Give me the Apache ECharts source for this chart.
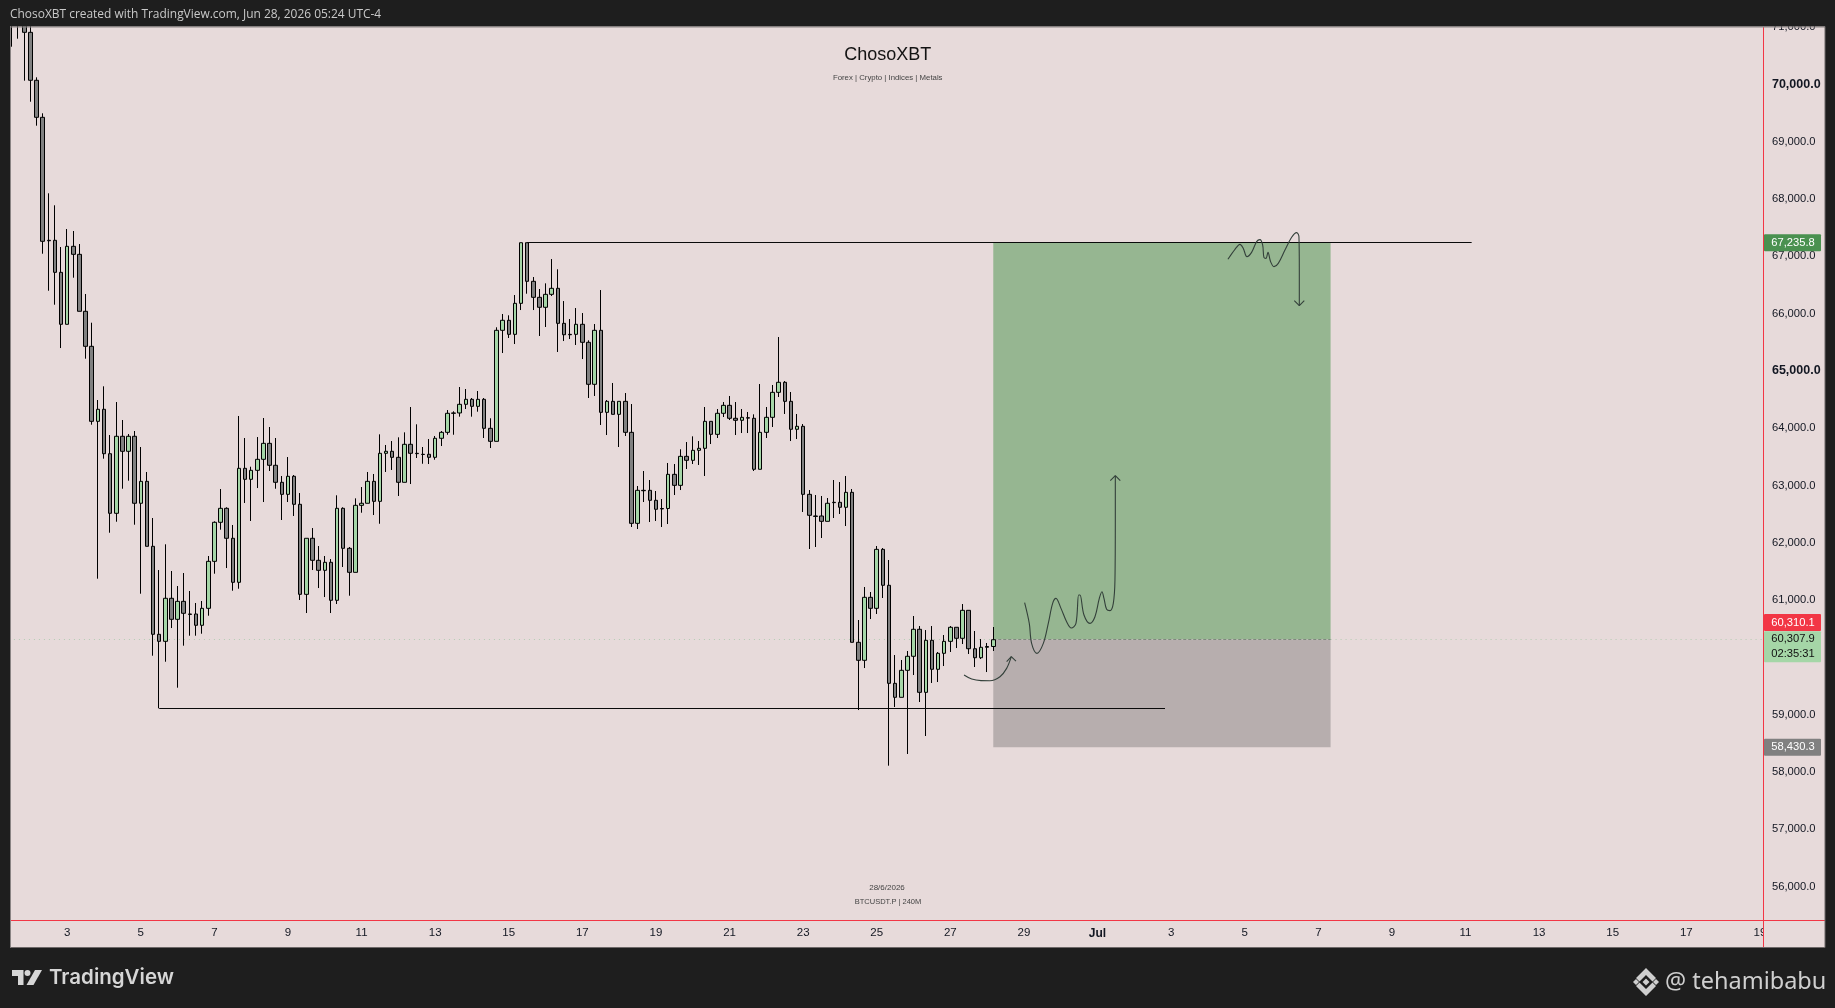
<!DOCTYPE html>
<html><head><meta charset="utf-8">
<style>html,body{margin:0;padding:0;background:#1e1e1e}#c{width:1835px;height:1008px}</style>
<script src="https://cdn.jsdelivr.net/npm/echarts@6/dist/echarts.min.js"></script>
</head><body><div id="c"></div>
<script>
// ---- data ----
const opens=[71600,71300,71150,70907,70070,69424,67278,67278,66719,65812,
67173,67033,66039,65428,64119,64329,63554,62514,63858,63596,
63858,62689,63072,61938,60403,60280,61031,60664,60978,60757,
60757,60560,60856,61676,62357,62601,62078,61310,63299,63107,
63264,63456,63735,63352,63055,62845,63160,62671,61100,62078,
61694,61519,61659,60996,62601,61903,61484,62653,62689,63072,
62723,63561,63596,63491,63055,63718,63561,63544,63544,63491,
63823,63927,64259,64265,64416,64503,64381,64503,63997,63770,
65707,65882,65637,66178,67236,66562,66283,66109,66335,66440,
65829,65637,65637,65812,65498,64765,65707,64276,64468,64241,
64468,63927,62339,62915,62915,62741,62598,62598,63194,63002,
63508,63439,63613,63648,64119,63892,64259,64398,64172,64137,
64182,64172,63282,63927,64189,64625,64800,64468,63980,64032,
62845,62467,62467,62374,62706,62706,62619,62880,60263,59949,
61048,60856,61885,61258,59547,59303,59774,60019,60490,59390,
60298,59792,60071,60280,60525,60333,60821,60151,59994,60176,
60190];
const closes=[71300,71150,70907,70070,69424,67260,67270,66719,65812,67173,
67033,66039,65428,64119,64329,63554,62514,63858,63596,63858,
62689,63072,61938,60403,60280,61031,60664,60978,60769,60750,
60560,60856,61676,62357,62601,62078,61310,63299,63107,63264,
63456,63735,63352,63055,62845,63160,62671,61100,62078,61694,
61519,61659,60996,62601,61903,61484,62653,62689,63072,62723,
63561,63596,63491,63055,63718,63561,63555,63540,63491,63823,
63927,64259,64265,64416,64503,64381,64503,63997,63770,65707,
65882,65637,66178,67236,66562,66283,66109,66335,66440,65829,
65630,65630,65812,65498,64765,65707,64276,64468,64241,64468,
63927,62339,62915,62908,62741,62584,62590,63194,63002,63508,
63439,63613,63648,64119,63892,64259,64398,64172,64137,64189,
64175,63282,63927,64189,64625,64800,64468,63980,64032,62845,
62479,62460,62374,62689,62700,62619,62880,60263,59949,61048,
60856,61885,61258,59547,59303,59774,60019,60490,59390,60298,
59792,60071,60280,60525,60333,60821,60151,59994,60176,60190,
60307.9];
const lows=[70656,70796,70063,69696,69278,67044,66398,66154,65398,65812,
66625,66039,65212,64060,61373,63467,62175,62367,62943,63083,
62315,61111,61938,60029,59111,59924,60512,59471,60204,60378,
60378,60413,60727,61460,62228,61559,61163,61198,62694,62380,
62955,62711,63252,62943,62397,62711,62467,61001,60774,61524,
61210,61053,60774,60931,61577,61076,61484,62524,62689,62484,
62332,63235,63270,62816,63055,63025,63479,63379,63374,63449,
63688,63885,63885,64200,64334,64200,64287,63828,63653,63770,
65311,65573,65468,66061,66346,66061,65608,65765,66306,65329,
65520,65555,65451,65206,64526,64561,64055,63880,64241,63671,
63863,62275,62240,62711,62362,62380,62275,62327,62833,62920,
63287,63374,63357,63165,63723,63828,64194,64142,63880,63915,
63915,63252,63282,63828,64020,64543,64247,63775,63810,62537,
61891,61926,62083,62374,62432,62502,62292,60263,59081,59814,
60669,60757,61036,58110,59134,59303,58314,59692,59221,58628,
59553,59570,59849,60094,60163,60233,60059,59832,59971,59744,
60111];
const highs=[71800,71500,71300,71050,70122,69494,68098,67889,67161,67475,
67440,67213,66341,65840,64491,64730,63880,64456,64142,63898,
63950,63671,63235,62432,61524,61973,61507,61245,61472,61158,
60949,60984,61769,62374,62938,62619,62310,64212,63828,63327,
63845,64177,64020,63828,63165,63496,63182,62868,62078,62257,
61943,61769,61716,62828,62619,61926,62775,62973,63235,63200,
63892,63706,63775,63840,63927,64369,64067,63671,63810,63863,
63950,64316,64294,64718,64683,64526,64648,64526,64172,65760,
65992,65969,66323,67236,67236,66637,66428,66527,66951,66772,
66218,65904,66096,66009,65533,65817,66410,64491,64788,64468,
64613,64421,62990,63252,63095,62903,62763,63392,63374,63631,
63758,63857,63775,64369,64119,64334,64456,64561,64456,64334,
64282,64241,64770,64369,64753,65590,64822,64631,64247,64072,
62920,62833,62816,62781,63095,63060,63165,62938,60652,61228,
61141,61943,61908,61699,60041,59954,60111,60722,60547,60477,
60547,60094,60390,60547,60525,60931,60821,60460,60320,60251,
60530];

const dayLabels=['3','5','7','9','11','13','15','17','19','21','23','25','27','29','Jul','3','5','7','9','11','13','15','17','19'];
const priceTicks=[56000,57000,58000,59000,60000,61000,62000,63000,64000,65000,66000,67000,68000,69000,70000,71000];
const boldPrices=[65000,70000];

const targetPrice=67235.8, entryPrice=60310.1, stopPrice=58430.3, lastPrice=60307.9, supportPrice=59111;
const zoneBars=[160,215];
const resistanceBars=[84,238];
const supportBars=[24,188];

const pathToTarget=[[165.11,60954],[165.87,60593],[166.25,60244],[167.12,60070],[168.16,60244],[168.97,60593],[169.68,60942],[170.22,61030],[171.04,60855],[171.96,60622],[172.72,60512],[173.48,60593],[173.92,61088],[174.13,61088],[174.79,60739],[175.76,60593],[176.58,60710],[177.29,61030],[177.72,61146],[178.05,61030],[178.48,60838],[179.03,60815],[179.57,60942],[179.84,61350],[179.9,62397],[179.9,63170]];
const pathHead=[[179.08,63083],[179.9,63170],[180.71,63083]];
const topPath=[[198.26,66946],[199.41,67120],[200.22,67207],[200.76,67137],[201.36,66992],[202.12,67068],[202.94,67254],[203.48,67289],[203.92,67196],[204.13,66981],[204.46,66963],[204.79,67068],[205.22,66905],[205.77,66818],[206.47,66876],[207.56,67108],[208.65,67330],[209.46,67411],[209.84,67341],[209.9,66759],[209.9,66137]];
const topHead=[[209.08,66224],[209.9,66137],[210.71,66224]];
const hookPath=[[155.23,59692],[156.48,59622],[158,59595],[159.46,59593],[161.09,59663],[162.18,59808],[162.94,60012]];
const hookHead=[[162.18,59924],[162.94,60012],[163.7,59936]];

const priceTags=[
 {price:targetPrice,text:'67,235.8',bg:'#4a9150',fg:'#ffffff',dy:0,h:17},
 {price:entryPrice,text:'60,310.1',bg:'#f23645',fg:'#ffffff',dy:-17,h:17},
 {price:lastPrice,text:'60,307.9\n02:35:31',bg:'#a5d6a7',fg:'#111111',dy:7,h:31},
 {price:stopPrice,text:'58,430.3',bg:'#808080',fg:'#ffffff',dy:0,h:17}
];

// ---- build ----
const BAR=6.133, GL=8.93, N=286;
const categories=new Array(N).fill('');
dayLabels.forEach((d,k)=>{categories[9+12*k]=d;});
const candles=opens.map((o,i)=>[o,closes[i],lows[i],highs[i]]);
const axisFont='"Liberation Sans",Arial,sans-serif';
const BG='#e7dada', DARK='#1e1e1e', RED='#f23645';

function curve(data,smooth){return {type:'line',xAxisIndex:1,yAxisIndex:0,data:data,smooth:smooth?0.35:false,symbol:'none',silent:true,z:6,lineStyle:{color:'#33403a',width:1.1},clip:true};}

const chart=echarts.init(document.getElementById('c'),null,{renderer:'canvas'});
function rect(x,y,w,h,fill,z){return {type:'rect',shape:{x,y,width:w,height:h},style:{fill},z:z||100,silent:true};}
function text(t,x,y,font,fill,align){return {type:'text',style:{text:t,x,y,font,fill,textAlign:align||'left',textVerticalAlign:'middle'},z:110,silent:true};}

chart.setOption({
 animation:false,
 backgroundColor:BG,
 grid:{left:GL,width:BAR*N,top:27,height:893.3,containLabel:false},
 xAxis:[
  {type:'category',data:categories,boundaryGap:true,z:1,
   axisLine:{show:false},axisTick:{show:false},splitLine:{show:false},
   axisLabel:{show:true,interval:0,margin:7,hideOverlap:false,color:'#131722',fontFamily:axisFont,fontSize:11.5,
    formatter:v=>v==='Jul'?'{b|Jul}':v,rich:{b:{fontWeight:'bold',fontSize:12,fontFamily:axisFont,color:'#131722'}}}},
  {type:'value',min:-0.5,max:N-0.5,show:false}
 ],
 yAxis:[{type:'value',position:'right',min:55412,max:71000,z:1,scale:true,
   axisLine:{show:false},axisTick:{show:false},splitLine:{show:false},
   axisLabel:{show:true,margin:9,align:'left',color:'#131722',fontFamily:axisFont,fontSize:11.2,
     customValues:priceTicks,showMinLabel:true,showMaxLabel:true,
     formatter:v=>{const s=Number(v).toLocaleString('en-US',{minimumFractionDigits:1,maximumFractionDigits:1});return boldPrices.includes(v)?'{b|'+s+'}':s;},
     rich:{b:{fontWeight:'bold',fontSize:12.5,fontFamily:axisFont,color:'#131722'}}}}],
 series:[
  {type:'line',name:'zones',xAxisIndex:1,yAxisIndex:0,data:[[zoneBars[0],entryPrice]],symbol:'none',silent:true,z:1,
   markArea:{silent:true,z:1,data:[
     [{coord:[zoneBars[0],targetPrice],itemStyle:{color:'#96b691'}},{coord:[zoneBars[1],entryPrice]}],
     [{coord:[zoneBars[0],entryPrice],itemStyle:{color:'#b7aeae'}},{coord:[zoneBars[1],stopPrice]}]
   ]},
   markLine:{silent:true,z:2,symbol:'none',label:{show:false},data:[
     [{coord:[-0.5,lastPrice],lineStyle:{color:'#b4ccb4',width:1,type:[1,4]}},{coord:[zoneBars[0],lastPrice]}],
     [{coord:[zoneBars[1],lastPrice],lineStyle:{color:'#b4ccb4',width:1,type:[1,4]}},{coord:[N-0.5,lastPrice]}],
     [{coord:[zoneBars[0],entryPrice],lineStyle:{color:'#7d8a7d',width:1,type:[3,2]}},{coord:[zoneBars[1],entryPrice]}]
   ]}},
  {type:'candlestick',name:'BTCUSDT.P',xAxisIndex:0,yAxisIndex:0,data:candles,barWidth:4,z:3,silent:true,clip:true,
   itemStyle:{color:'#a5d6a7',color0:'#808080',borderColor:'#000000',borderColor0:'#000000',borderColorDoji:'#000000',borderWidth:1}},
  {type:'line',name:'levels',xAxisIndex:1,yAxisIndex:0,data:[[resistanceBars[0],targetPrice]],symbol:'none',silent:true,z:5,
   markLine:{silent:true,z:5,symbol:'none',label:{show:false},data:[
     [{coord:[resistanceBars[0],targetPrice],lineStyle:{color:'#0a0a0a',width:1.2,type:'solid'}},{coord:[resistanceBars[1],targetPrice]}],
     [{coord:[supportBars[0],supportPrice],lineStyle:{color:'#0a0a0a',width:1.2,type:'solid'}},{coord:[supportBars[1],supportPrice]}]
   ]}},
  curve(pathToTarget,true),curve(pathHead,false),curve(topPath,true),curve(topHead,false),curve(hookPath,true),curve(hookHead,false),
  {type:'custom',name:'tags',xAxisIndex:1,yAxisIndex:0,clip:false,silent:true,z:50,
   data:priceTags.map((t,i)=>[0,t.price,i]),
   renderItem:(p,api)=>{const t=priceTags[api.value(2)];const cy=api.coord([0,t.price])[1]+t.dy;
     return {type:'group',children:[
       {type:'rect',shape:{x:1764,y:cy-t.h/2,width:57,height:t.h,r:1},style:{fill:t.bg}},
       {type:'text',style:{text:t.text,x:1793,y:cy,fill:t.fg,font:'11.2px '+axisFont,align:'center',verticalAlign:'middle',lineHeight:15}}
     ]};}}
 ],
 graphic:{elements:[
  rect(1763.5,921,62,26,BG,10),
  rect(10,920,1815,1,RED,12),
  rect(1763,27,1,920,RED,12),
  // frame
  rect(0,0,1835,26.5,DARK),
  rect(0,947.5,1835,61,DARK),
  rect(0,0,10,1008,DARK),
  rect(1825,0,10,1008,DARK),
  rect(10,26.5,1815,1,'#8a8484',101),
  rect(10,947,1815,1,'#6e6868',101),
  rect(10,26.5,1,921,'#8a8484',101),
  rect(1824.5,26.5,1,921,'#6e6868',101),
  text('ChosoXBT created with TradingView.com, Jun 28, 2026 05:24 UTC-4',10,15,'11.95px "Open Sans",sans-serif','#c9c9c9'),
  text('ChosoXBT',887.7,55,'18px "Liberation Sans",Arial,sans-serif','#131313','center'),
  text('Forex | Crypto | Indices | Metals',887.7,78,'7.8px "Liberation Sans",Arial,sans-serif','#444444','center'),
  text('28/6/2026',887,888,'8px "Liberation Sans",Arial,sans-serif','#444444','center'),
  text('BTCUSDT.P | 240M',888,902,'7.5px "Liberation Sans",Arial,sans-serif','#444444','center'),
  // TradingView logo
  {type:'polygon',shape:{points:[[12,970],[23.5,970],[23.5,985],[18,985],[18,976],[12,976]]},style:{fill:'#d6d6d6'},z:110,silent:true},
  {type:'circle',shape:{cx:27.5,cy:973,r:3},style:{fill:'#d6d6d6'},z:110,silent:true},
  {type:'polygon',shape:{points:[[35,970],[42,970],[33.5,985],[26.5,985]]},style:{fill:'#d6d6d6'},z:110,silent:true},
  text('TradingView',49,978,'600 20.5px Inter,sans-serif','#d6d6d6'),
  // Binance mark
  {type:'polygon',shape:{points:[[1646,968],[1656,978],[1652.5,981.5],[1646,975],[1639.5,981.5],[1636,978]]},style:{fill:'#cfcfcf'},z:110,silent:true},
  {type:'polygon',shape:{points:[[1646,996],[1656,986],[1652.5,982.5],[1646,989],[1639.5,982.5],[1636,986]]},style:{fill:'#cfcfcf'},z:110,silent:true},
  {type:'polygon',shape:{points:[[1646,978.5],[1649.5,982],[1646,985.5],[1642.5,982]]},style:{fill:'#cfcfcf'},z:110,silent:true},
  {type:'polygon',shape:{points:[[1636,979],[1639,982],[1636,985],[1633,982]]},style:{fill:'#cfcfcf'},z:110,silent:true},
  {type:'polygon',shape:{points:[[1656,979],[1659,982],[1656,985],[1653,982]]},style:{fill:'#cfcfcf'},z:110,silent:true},
  text('@ tehamibabu',1665,982,'23.5px "Noto Sans",sans-serif','#cfcfcf')
 ]}
});
</script></body></html>
